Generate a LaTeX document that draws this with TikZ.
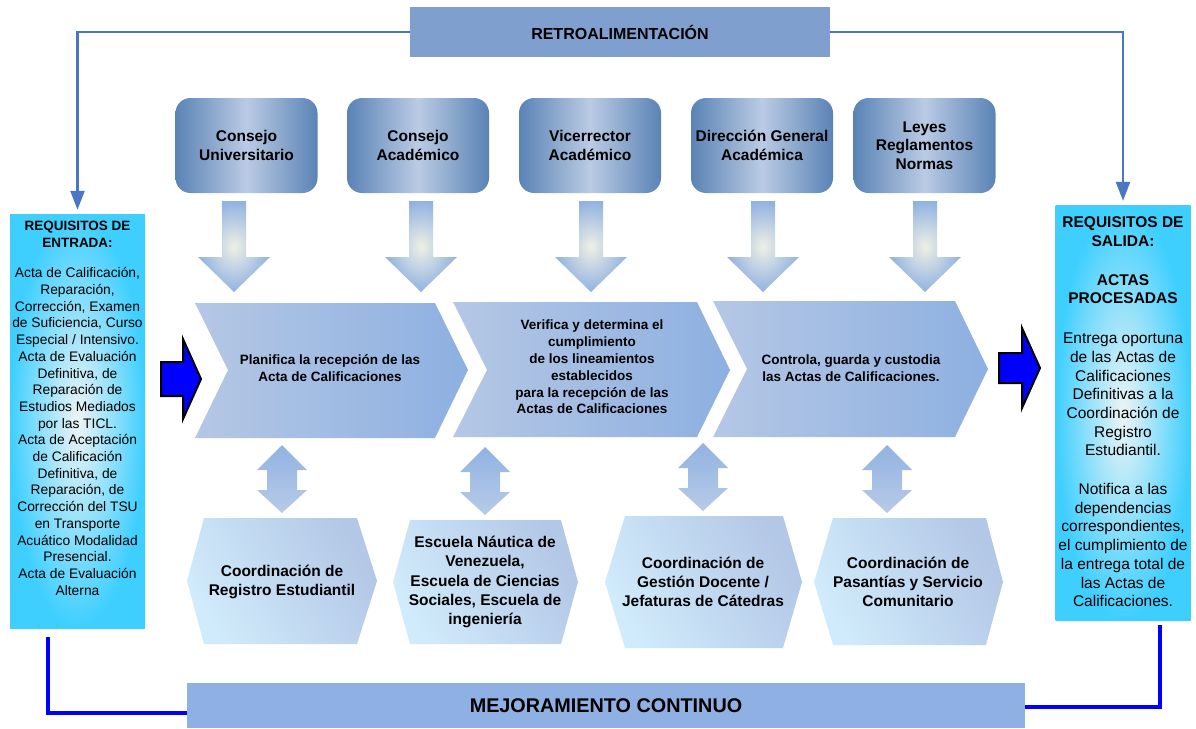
\documentclass[tikz,border=0pt]{standalone}
\usepackage{fontspec}
\setmainfont{Liberation Sans}
\usetikzlibrary{positioning, arrows.meta}
\definecolor{retro-blue}{HTML}{7F9FCF}
\definecolor{fb-blue}{HTML}{4A76C4}
\definecolor{req-cyan}{HTML}{3ECFFF}
\definecolor{req-light}{HTML}{EEF4F5}
\definecolor{org-dark}{HTML}{5A83B5}
\definecolor{org-light}{HTML}{BACBE4}
\definecolor{chev-light}{HTML}{B5C7E5}
\definecolor{chev-dark}{HTML}{8DB0E1}
\definecolor{arr-blue}{HTML}{91B2E1}
\definecolor{arr-glow}{HTML}{EEF0E4}
\definecolor{arr-pale}{HTML}{B8CBE8}
\definecolor{hex-light}{HTML}{D0EBFB}
\definecolor{hex-dark}{HTML}{B3C7E6}
\definecolor{mej-blue}{HTML}{8EB0E3}

\begin{document}
\begin{tikzpicture}
    [x=1pt, y=-1pt,
    retro/.style = {rectangle, fill=retro-blue, minimum width=420pt, minimum height=50pt,
            font=\bfseries\fontsize{16}{18}\selectfont},
    req/.style = {rectangle, inner color=req-light, outer color=req-cyan,
            minimum width=135pt},
    reqtxt/.style = {align=center, inner sep=0pt},
    org/.style = {rectangle, rounded corners=15pt, left color=org-dark, right color=org-dark,
            middle color=org-light, minimum width=142pt, minimum height=95pt, align=center,
            font=\bfseries\fontsize{15.5}{18.5}\selectfont},
    downarr/.style = {inner color=arr-glow, outer color=arr-blue},
    updown/.style = {top color=arr-blue, bottom color=arr-pale},
    chev/.style = {left color=chev-light, right color=chev-dark},
    chevtxt/.style = {align=center, font=\bfseries\fontsize{13.5}{16.8}\selectfont},
    hex/.style = {top color=hex-dark, bottom color=hex-light, shading angle=-60},
    hextxt/.style = {align=center, font=\bfseries\fontsize{15.5}{19.3}\selectfont},
    blockarr/.style = {fill=blue, draw=black, line width=2pt, line join=miter},
    fb/.style = {draw=fb-blue, line width=2.5pt, -{Triangle[width=14pt,length=19pt]}, shorten >=4pt},
    mejline/.style = {draw=blue, line width=4pt},
    mej/.style = {rectangle, fill=mej-blue, minimum width=838pt, minimum height=45pt,
            font=\bfseries\fontsize{19.8}{22}\selectfont},
    ]

\useasboundingbox (0,0) rectangle (1196,728);

% feedback / input / output
\node[retro] (retro) at (620,32) {RETROALIMENTACIÓN};
\node[req, minimum height=414pt] (ent) at (77.5,421) {};
\node[req, minimum height=415pt] (sal) at (1123,412.5) {};

\node[reqtxt, below=7pt of ent.north, font=\fontsize{13.8}{16.7}\selectfont] (enttxt)
    {{\bfseries\fontsize{13.5}{16}\selectfont REQUISITOS DE}\\
     {\bfseries\fontsize{13.5}{16}\selectfont ENTRADA:}\\[14pt]
     Acta de Calificación,\\ Reparación,\\ Corrección, Examen\\ de Suficiencia, Curso\\
     Especial / Intensivo.\\ Acta de Evaluación\\ Definitiva, de\\ Reparación de\\
     Estudios Mediados\\ por las TICL.\\ Acta de Aceptación\\ de Calificación\\
     Definitiva, de\\ Reparación, de\\ Corrección del TSU\\ en Transporte\\
     Acuático Modalidad\\ Presencial.\\ Acta de Evaluación\\ Alterna};

\node[reqtxt, below=12pt of sal.north, font=\fontsize{15.5}{18.7}\selectfont] (saltxt)
    {{\bfseries REQUISITOS DE}\\ {\bfseries SALIDA:}\\[20pt]
     {\bfseries ACTAS}\\ {\bfseries PROCESADAS}\\[21pt]
     Entrega oportuna\\ de las Actas de\\ Calificaciones\\ Definitivas a la\\
     Coordinación de\\ Registro\\ Estudiantil.\\[20pt]
     Notifica a las\\ dependencias\\ correspondientes,\\ el cumplimiento de\\
     la entrega total de\\ las Actas de\\ Calificaciones.};

\draw[fb] (retro.west) -| (ent.north);
\draw[fb] (retro.east) -| (sal.north);

% organs on top
\node[org] (cu) at (246.5,145.5) {Consejo\\ Universitario};
\node[org] (ca) at (418,145.5) {Consejo\\ Académico};
\node[org] (vr) at (590,145.5) {Vicerrector\\ Académico};
\node[org] (dg) at (762,145.5) {Dirección General\\ Académica};
\node[org] (ln) at (924.5,145.5) {Leyes\\ Reglamentos\\ Normas};

\shade[downarr, shift={(234,0)}] (-12,201) -- (12,201) -- (12,257) -- (36,257) -- (0,292) -- (-36,257) -- (-12,257) -- cycle;
\shade[downarr, shift={(421,0)}] (-12,201) -- (12,201) -- (12,257) -- (36,257) -- (0,292) -- (-36,257) -- (-12,257) -- cycle;
\shade[downarr, shift={(591,0)}] (-12,201) -- (12,201) -- (12,257) -- (36,257) -- (0,292) -- (-36,257) -- (-12,257) -- cycle;
\shade[downarr, shift={(763,0)}] (-12,201) -- (12,201) -- (12,257) -- (36,257) -- (0,292) -- (-36,257) -- (-12,257) -- cycle;
\shade[downarr, shift={(925,0)}] (-12,201) -- (12,201) -- (12,257) -- (36,257) -- (0,292) -- (-36,257) -- (-12,257) -- cycle;

% process
\shade[chev] (195,303) -- (435,303) -- (468,370) -- (435,438) -- (195,438) -- (228,370) -- cycle;
\shade[chev] (453,302) -- (697,302) -- (730,370) -- (697,437) -- (453,437) -- (487,370) -- cycle;
\shade[chev] (713,301) -- (955,301) -- (988,369) -- (955,437) -- (713,437) -- (747,369) -- cycle;

\node[chevtxt] (plan) at (330,368) {Planifica la recepción de las\\ Acta de Calificaciones};
\node[chevtxt] (verif) at (592,367) {Verifica y determina el\\ cumplimiento\\ de los lineamientos\\
    establecidos\\ para la recepción de las\\ Actas de Calificaciones};
\node[chevtxt] (ctrl) at (851,368) {Controla, guarda y custodia\\ las Actas de Calificaciones.};

\filldraw[blockarr, shift={(161,379)}] (0,-17) -- (22,-17) -- (22,-40) -- (40,0) -- (22,40) -- (22,17) -- (0,17) -- cycle;
\filldraw[blockarr, shift={(999,368)}] (0,-15) -- (23,-15) -- (23,-40) -- (41,0) -- (23,40) -- (23,15) -- (0,15) -- cycle;

\shade[updown, shift={(282,445)}] (0,0) -- (25,25) -- (15,25) -- (15,45) -- (25,45) -- (0,68) -- (-25,45) -- (-15,45) -- (-15,25) -- (-25,25) -- cycle;
\shade[updown, shift={(485,447)}] (0,0) -- (25,25) -- (15,25) -- (15,45) -- (25,45) -- (0,68) -- (-25,45) -- (-15,45) -- (-15,25) -- (-25,25) -- cycle;
\shade[updown, shift={(703,443)}] (0,0) -- (25,25) -- (15,25) -- (15,45) -- (25,45) -- (0,68) -- (-25,45) -- (-15,45) -- (-15,25) -- (-25,25) -- cycle;
\shade[updown, shift={(887,445)}] (0,0) -- (25,25) -- (15,25) -- (15,45) -- (25,45) -- (0,68) -- (-25,45) -- (-15,45) -- (-15,25) -- (-25,25) -- cycle;

% units below
\shade[hex] (204,518) -- (357,518) -- (377,581) -- (357,644) -- (204,644) -- (187,581) -- cycle;
\shade[hex] (410,520) -- (561,520) -- (578,582) -- (561,644) -- (410,644) -- (393,582) -- cycle;
\shade[hex] (625,516) -- (783,516) -- (802,582) -- (783,648) -- (625,648) -- (605,582) -- cycle;
\shade[hex] (833,518) -- (986,518) -- (1003,582) -- (986,645) -- (833,645) -- (814,582) -- cycle;

\node[hextxt] (cre) at (282,582) {Coordinación de\\ Registro Estudiantil};
\node[hextxt] (esc) at (485,582) {Escuela Náutica de\\ Venezuela,\\ Escuela de Ciencias\\
    Sociales, Escuela de\\ ingeniería};
\node[hextxt] (cgd) at (703,582) {Coordinación de\\ Gestión Docente /\\ Jefaturas de Cátedras};
\node[hextxt] (cps) at (908,582) {Coordinación de\\ Pasantías y Servicio\\ Comunitario};

% improvement
\node[mej] (mej) at (606,705.5) {MEJORAMIENTO CONTINUO};
\draw[mejline] ([xshift=-29.5pt,yshift=-9pt]ent.south) |- ([yshift=-7.5pt]mej.west);
\draw[mejline] ([xshift=37pt,yshift=-5pt]sal.south) |- ([yshift=-1.5pt]mej.east);

\end{tikzpicture}
\end{document}
